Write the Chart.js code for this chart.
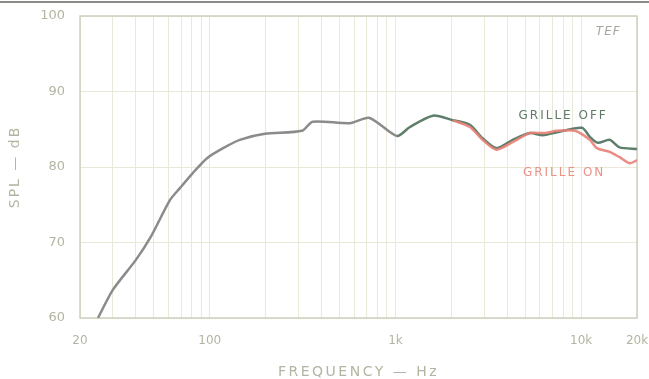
<!DOCTYPE html>
<html>
<head>
<meta charset="utf-8">
<script src="https://cdn.jsdelivr.net/npm/chart.js@4"></script>
<style>
  html, body { margin: 0; padding: 0; background: #fff; }
  .wrap { position: relative; width: 649px; height: 379px; }
  .edge { position: absolute; left: 0; top: 1px; width: 649px; height: 2px; background: #8a8a86; }
</style>
</head>
<body>
<div class="wrap">
  <canvas id="chart" width="649" height="379"></canvas>
  <div class="edge"></div>
</div>
<script>
// grille off response (Hz, dB)
const freqOff = [25, 30, 40, 48, 61, 69, 81, 97, 118, 145, 198, 314, 358, 568, 726, 1018, 1196, 1592, 2036, 2516, 2950, 3500, 4280, 5300, 6220, 7400, 10100, 11140, 12300, 14240, 16100, 20000];
const splOff = [60, 63.7, 67.7, 70.7, 75.6, 77.2, 79.2, 81.2, 82.5, 83.6, 84.4, 84.8, 86.0, 85.8, 86.5, 84.1, 85.3, 86.8, 86.2, 85.6, 83.8, 82.5, 83.6, 84.5, 84.2, 84.6, 85.2, 84.0, 83.2, 83.6, 82.6, 82.4];

// grille on response, only differs above ~2 kHz
const freqOn = [2036, 2516, 2950, 3500, 4280, 5300, 6370, 7400, 9280, 11140, 12160, 14240, 16100, 18300, 20000];
const splOn = [86.2, 85.3, 83.6, 82.3, 83.3, 84.5, 84.5, 84.8, 84.8, 83.6, 82.5, 82.0, 81.3, 80.5, 80.9];

const gridFreqs = [20, 30, 40, 50, 60, 70, 80, 90, 100, 200, 300, 400, 500, 600, 700, 800, 900,
  1000, 2000, 3000, 4000, 5000, 6000, 7000, 8000, 9000, 10000, 20000];
const freqLabels = { 20: "20", 100: "100", 1000: "1k", 10000: "10k", 20000: "20k" };

const tickColor = "#b4b4a2";
const gridColor = "#e9e9d8";

const toPoints = (xs, ys) => xs.map((x, i) => ({ x: x, y: ys[i] }));

// labels written on the plot
const notes = [
  { text: "TEF", x: 14000, y: 97.9, color: "#a6a6a0", font: "italic 12px 'DejaVu Sans'", spacing: "1px" },
  { text: "GRILLE OFF", x: 8000, y: 86.8, color: "#5f7a62", font: "12px 'DejaVu Sans'", spacing: "2px" },
  { text: "GRILLE ON", x: 8100, y: 79.2, color: "#ea9286", font: "12px 'DejaVu Sans'", spacing: "2px" },
];

const framePlugin = {
  id: "frame",
  beforeDatasetsDraw(chart) {
    const a = chart.chartArea;
    const ctx = chart.ctx;
    ctx.save();
    ctx.strokeStyle = "#cfcfbf";
    ctx.lineWidth = 1.5;
    ctx.strokeRect(a.left, a.top, a.right - a.left, a.bottom - a.top);
    ctx.restore();
  },
  afterDatasetsDraw(chart) {
    const ctx = chart.ctx;
    const a = chart.chartArea;
    const xs = chart.scales.x;
    const ys = chart.scales.y;
    ctx.save();
    ctx.textAlign = "center";
    ctx.textBaseline = "middle";
    notes.forEach((n) => {
      ctx.font = n.font;
      ctx.fillStyle = n.color;
      ctx.letterSpacing = n.spacing;
      ctx.fillText(n.text, xs.getPixelForValue(n.x), ys.getPixelForValue(n.y));
    });

    // axis titles, spaced out like the original
    ctx.font = "14px 'DejaVu Sans'";
    ctx.fillStyle = tickColor;
    ctx.letterSpacing = "2.5px";
    ctx.fillText("FREQUENCY — Hz", (a.left + a.right) / 2, chart.height - 7);
    ctx.translate(15, (a.top + a.bottom) / 2);
    ctx.rotate(-Math.PI / 2);
    ctx.letterSpacing = "2px";
    ctx.fillText("SPL — dB", 0, 0);
    ctx.restore();
  },
};

new Chart(document.getElementById("chart"), {
  type: "line",
  data: {
    datasets: [
      {
        label: "Grille off",
        data: toPoints(freqOff, splOff),
        borderWidth: 2.5,
        borderColor: "#5e7f6c",
        segment: {
          borderColor: (ctx) => (ctx.p0.parsed.x < 900 ? "#8b8b8b" : "#5e7f6c"),
        },
        pointRadius: 0,
        tension: 0.25,
        order: 2,
      },
      {
        label: "Grille on",
        data: toPoints(freqOn, splOn),
        borderWidth: 2.5,
        borderColor: "rgba(232, 128, 118, 0.9)",
        pointRadius: 0,
        tension: 0.25,
        order: 1,
      },
    ],
  },
  options: {
    responsive: false,
    animation: false,
    layout: { padding: { left: 0, right: 12, top: 16, bottom: 0 } },
    plugins: { legend: { display: false }, tooltip: { enabled: false } },
    scales: {
      x: {
        type: "logarithmic",
        min: 20,
        max: 20000,
        afterBuildTicks: (scale) => {
          scale.ticks = gridFreqs.map((v) => ({ value: v }));
        },
        afterFit: (scale) => {
          scale.height = 61;
        },
        // invisible tick marks keep the labels off the axis without adding side padding
        grid: { color: gridColor, lineWidth: 1, drawTicks: true, tickLength: 16, tickColor: "transparent" },
        border: { display: false },
        ticks: {
          autoSkip: false,
          maxRotation: 0,
          padding: 0,
          color: tickColor,
          font: { family: "DejaVu Sans", size: 12 },
          callback: (v) => freqLabels[v] || "",
        },
      },
      y: {
        min: 60,
        max: 100,
        afterFit: (scale) => {
          scale.width = 80;
        },
        grid: { color: gridColor, lineWidth: 1, drawTicks: true, tickLength: 15, tickColor: "transparent" },
        border: { display: false },
        ticks: {
          stepSize: 10,
          padding: 0,
          color: tickColor,
          font: { family: "DejaVu Sans", size: 13 },
        },
      },
    },
  },
  plugins: [framePlugin],
});
</script>
</body>
</html>
